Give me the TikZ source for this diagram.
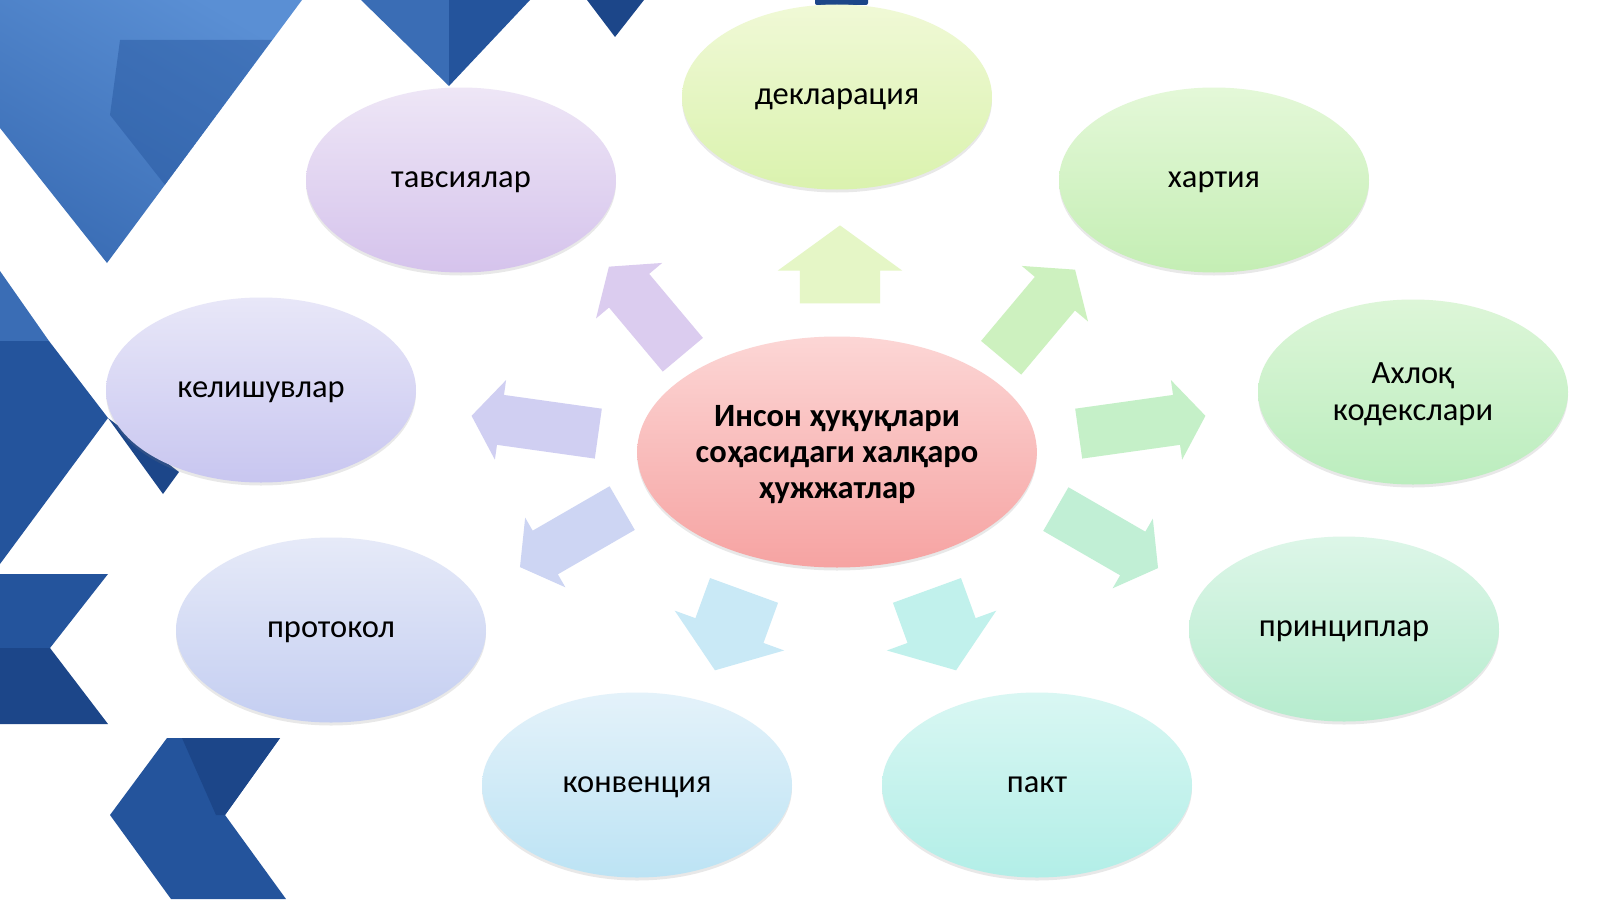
\documentclass[tikz,border=0pt]{standalone}
\usepackage{fontspec}
\setmainfont{Carlito}
\usetikzlibrary{shapes.geometric, shapes.arrows, shadows}
\definecolor{tileL}{HTML}{5A8FD4}
\definecolor{tileM}{HTML}{3A6DB5}
\definecolor{tileD}{HTML}{24549C}
\definecolor{tileN}{HTML}{1C4689}
\definecolor{declT}{HTML}{F0F9D6}\definecolor{declB}{HTML}{DAF2AE}
\definecolor{tavsT}{HTML}{EEE6F6}\definecolor{tavsB}{HTML}{D5C3EC}
\definecolor{hartT}{HTML}{E4F8D8}\definecolor{hartB}{HTML}{C4EEB4}
\definecolor{kelT}{HTML}{E8E7F8}\definecolor{kelB}{HTML}{C8C6F0}
\definecolor{axlT}{HTML}{DDF6D8}\definecolor{axlB}{HTML}{BBEDBE}
\definecolor{protT}{HTML}{E6EAF8}\definecolor{protB}{HTML}{C4CEF1}
\definecolor{prinT}{HTML}{DDF6E8}\definecolor{prinB}{HTML}{B6ECCE}
\definecolor{konvT}{HTML}{E4F2FA}\definecolor{konvB}{HTML}{BCE3F4}
\definecolor{paktT}{HTML}{D9F7F3}\definecolor{paktB}{HTML}{B2EEE7}
\definecolor{markT}{HTML}{FCD6D5}\definecolor{markB}{HTML}{F6A3A2}
\tikzset{bubble/.style={ellipse, minimum width=310pt, minimum height=185pt, inner sep=0pt,
           align=center, text depth=0pt, font=\fontsize{32.5}{37}\selectfont,
           drop shadow={shadow xshift=0pt, shadow yshift=-3pt, opacity=.18}},
         spoke/.style 2 args={single arrow, inner xsep=0pt, inner ysep=#1,
           single arrow head extend=#2, single arrow tip angle=108},
        }

\begin{document}
\begin{tikzpicture}[x=1pt,y=-1pt]
        \useasboundingbox (0,0) rectangle (1600,899);
        \fill[white] (0,0) rectangle (1600,899);

        % blue tiles on the left
        \begin{scope}
            \clip (0,0)--(302,0)--(107,263)--(0,128)--cycle;
            \shade[left color=tileL, right color=tileM, shading angle=-30] (0,0) rectangle (310,270);
            \fill[tileD, opacity=.45] (120,40)--(272,40)--(165,185)--(110,115)--cycle;
        \end{scope}
        \fill[tileM] (361,0)--(449,0)--(449,86)--cycle;
        \fill[tileD] (449,0)--(530,0)--(449,86)--cycle;
        \fill[tileN] (587,0)--(644,0)--(615,37)--cycle;
        \fill[tileN, rounded corners=2pt] (815,-4) rectangle (868,5);
        \fill[tileM] (0,271)--(49,341)--(0,341)--cycle;
        \fill[tileD] (0,341)--(49,341)--(108,418)--(0,564)--cycle;
        \fill[tileN] (108,418)--(179,472)--(163,494)--cycle;
        \fill[tileD] (0,574)--(108,574)--(50,648)--(0,648)--cycle;
        \fill[tileN] (0,648)--(50,648)--(108,724)--(0,724)--cycle;
        \fill[tileD] (167,738)--(280,738)--(225,815)--(286,899)--(171,899)--(110,815)--cycle;
        \fill[tileN] (182,738)--(280,738)--(225,815)--(216,815)--cycle;

        % arrows
        \node[spoke={40pt}{22pt}, fill=declB!70, rotate=90, minimum height=78pt](a-decl)at(840,279){};
        \node[spoke={26pt}{17pt}, fill=tavsB!85, rotate=130, minimum height=115pt](a-tavs)at(652,318){};
        \node[spoke={26pt}{17pt}, fill=hartB!85, rotate=50, minimum height=115pt](a-hart)at(1032,321){};
        \node[spoke={25pt}{15pt}, fill=kelB!85, rotate=172, minimum height=128pt](a-kelish)at(544,426){};
        \node[spoke={25pt}{15pt}, fill=axlB!85, rotate=8, minimum height=128pt](a-axloq)at(1133,426){};
        \node[spoke={25pt}{15pt}, fill=protB!85, rotate=210, minimum height=118pt](a-prot)at(579,533){};
        \node[spoke={25pt}{15pt}, fill=prinB!85, rotate=-30, minimum height=118pt](a-princ)at(1099,534){};
        \node[spoke={36pt}{22pt}, fill=konvB!80, rotate=-110, minimum height=85pt](a-konv)at(734,618){};
        \node[spoke={36pt}{22pt}, fill=paktB!80, rotate=-70, minimum height=85pt](a-pakt)at(937,618){};

        % documents
        \node[bubble, top color=declT, bottom color=declB](decl)at(837,97){декларация};
        \node[bubble, top color=tavsT, bottom color=tavsB](tavs)at(461,180){тавсиялар};
        \node[bubble, top color=hartT, bottom color=hartB](hart)at(1214,180){хартия};
        \node[bubble, top color=kelT, bottom color=kelB](kelish)at(261,390){келишувлар};
        \node[bubble, top color=axlT, bottom color=axlB](axloq)at(1413,392){Ахлоқ\\кодекслари};
        \node[bubble, top color=protT, bottom color=protB](prot)at(331,630){протокол};
        \node[bubble, top color=prinT, bottom color=prinB](princ)at(1344,629){принциплар};
        \node[bubble, top color=konvT, bottom color=konvB](konv)at(637,785){конвенция};
        \node[bubble, top color=paktT, bottom color=paktB](pakt)at(1037,785){пакт};

        \node[bubble, minimum width=387pt, minimum height=231pt, top color=markT, bottom color=markB,
              font=\fontsize{32.5}{36}\selectfont\bfseries](markaz)at(837,452){Инсон ҳуқуқлари\\соҳасидаги халқаро\\ҳужжатлар};
\end{tikzpicture}
\end{document}
